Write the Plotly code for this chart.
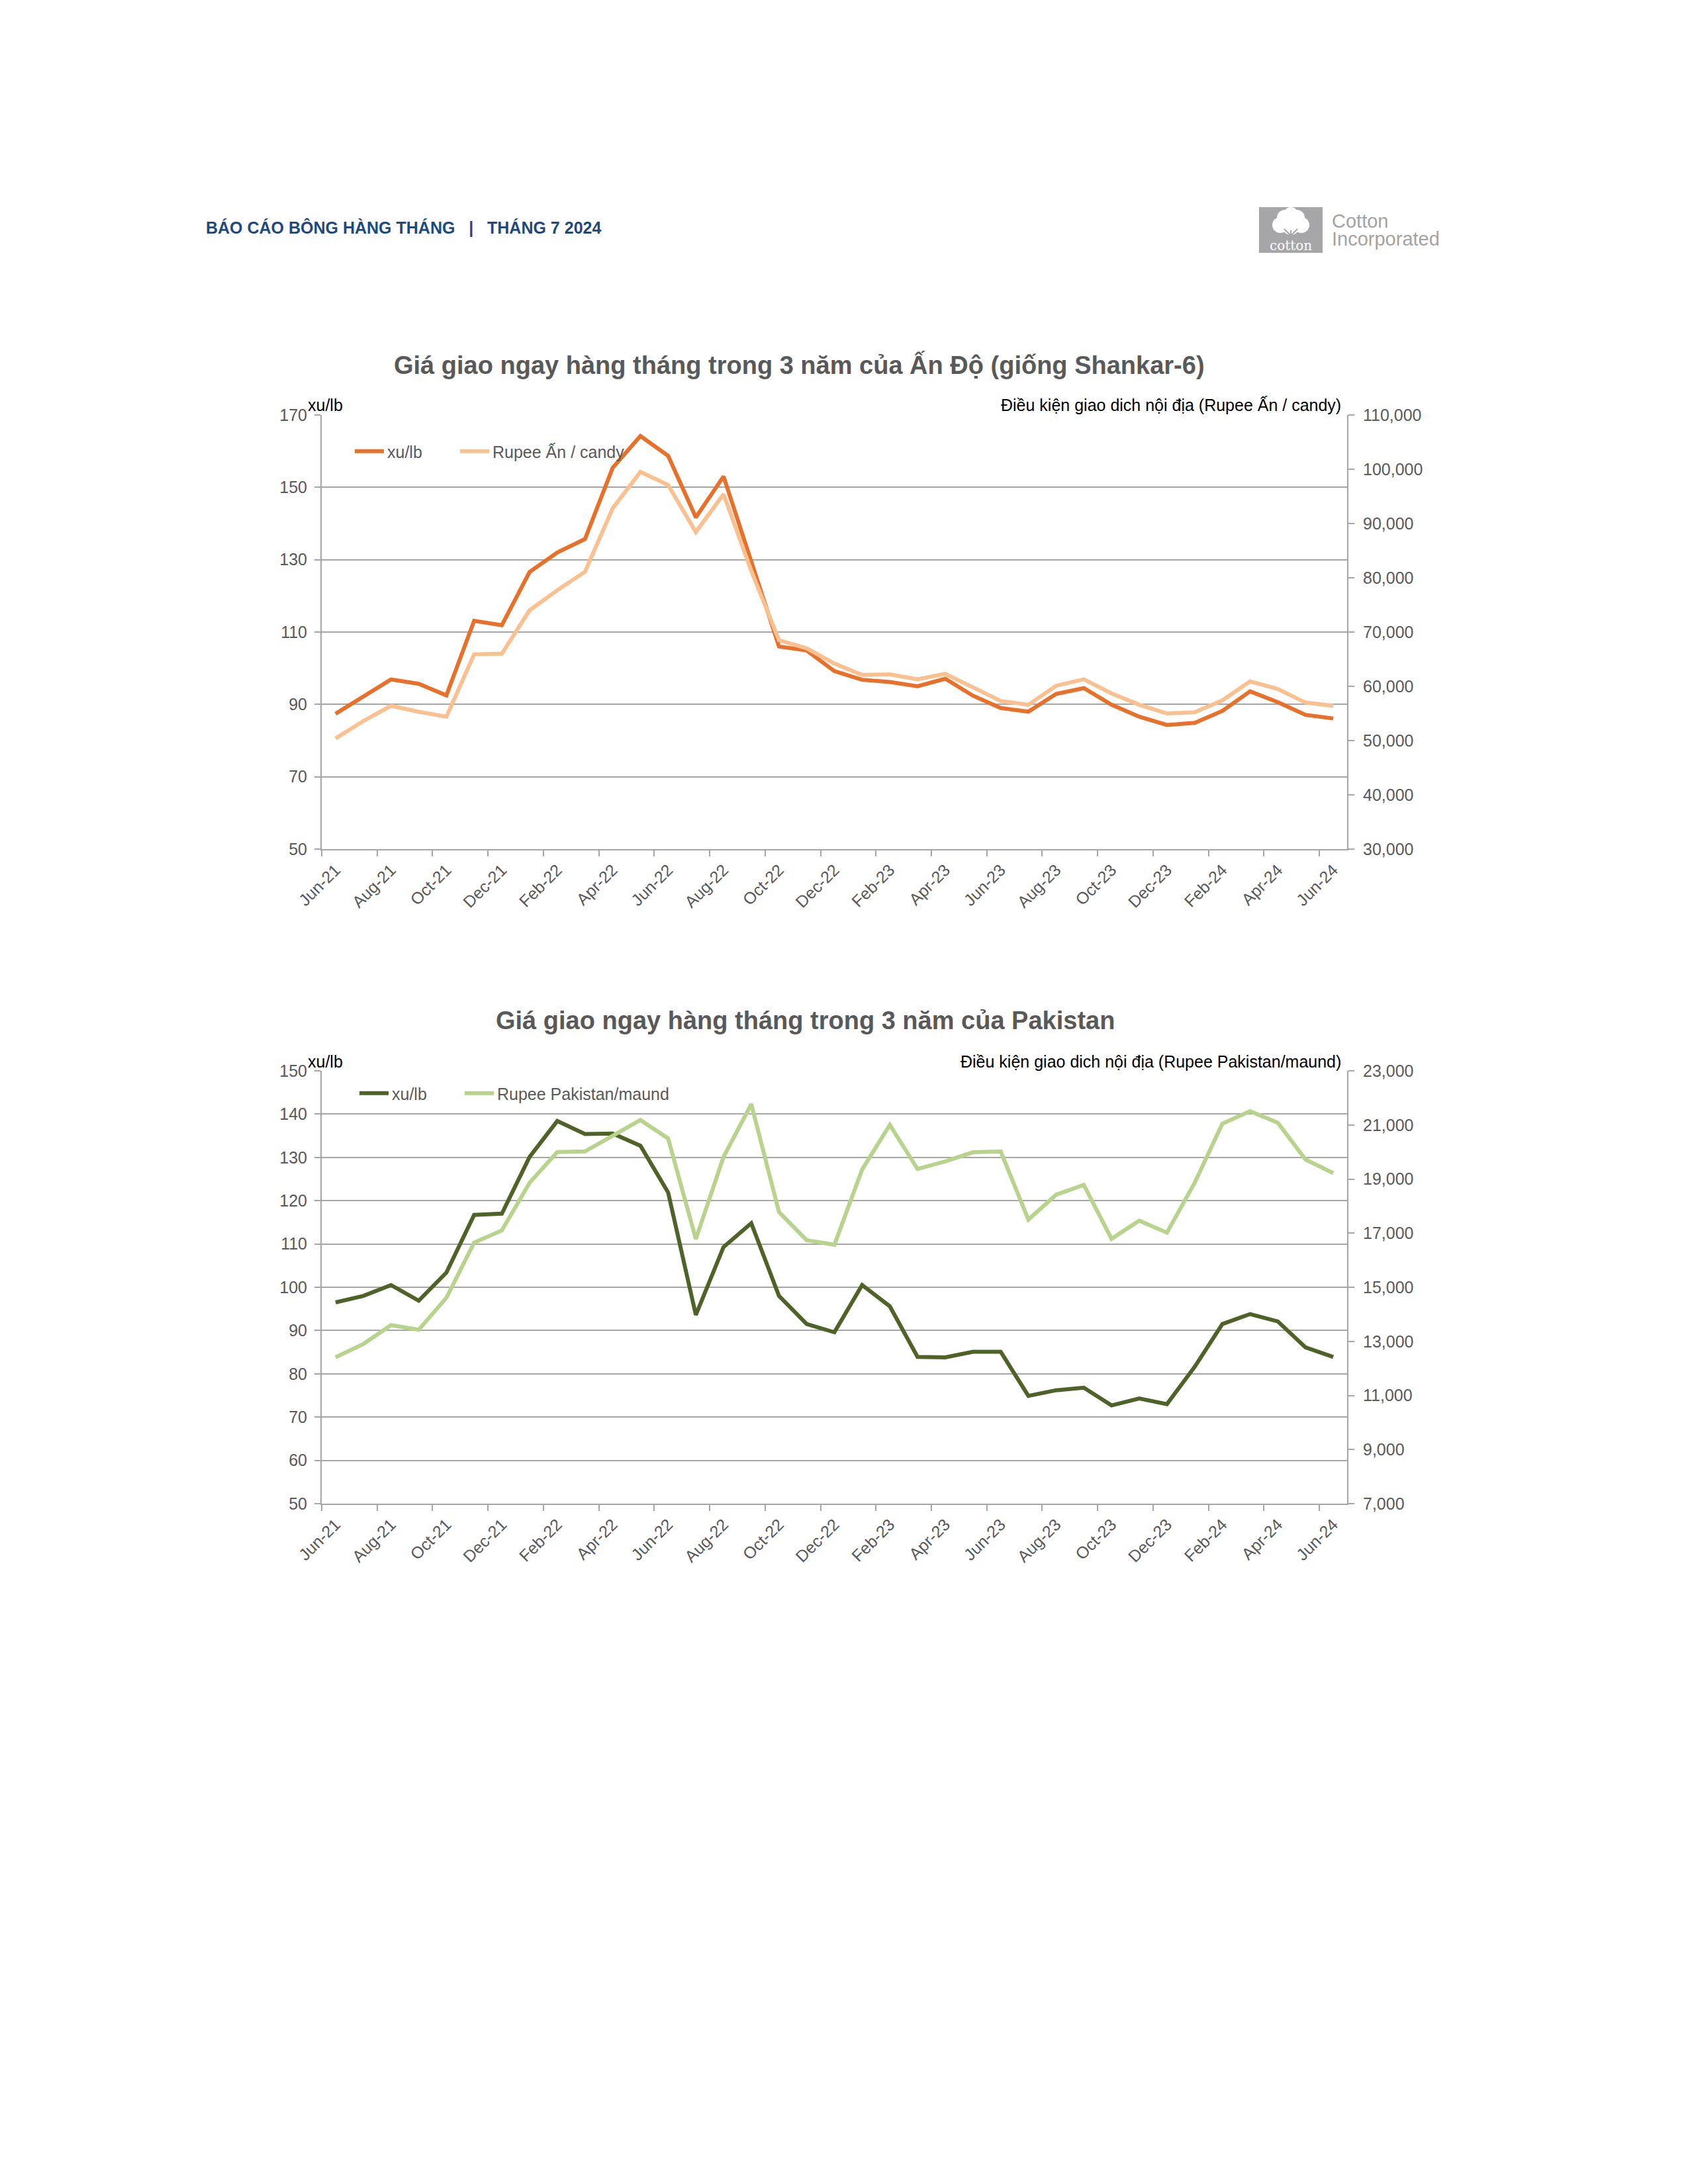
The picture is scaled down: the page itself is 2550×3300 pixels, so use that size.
import plotly.graph_objects as go

W, H = 2550, 3300
OFF = 8  # page body margin
def X(px): return (px - OFF) / W
def Y(py): return 1 - (py - OFF) / H

months = ["Jun-21","Jul-21","Aug-21","Sep-21","Oct-21","Nov-21","Dec-21",
          "Jan-22","Feb-22","Mar-22","Apr-22","May-22","Jun-22","Jul-22","Aug-22","Sep-22","Oct-22","Nov-22","Dec-22",
          "Jan-23","Feb-23","Mar-23","Apr-23","May-23","Jun-23","Jul-23","Aug-23","Sep-23","Oct-23","Nov-23","Dec-23",
          "Jan-24","Feb-24","Mar-24","Apr-24","May-24","Jun-24"]

india_cents = [87.4, 92.0, 96.9, 95.7, 92.5, 113.1, 111.9,
               126.6, 132.0, 135.7, 155.4, 164.2, 158.7, 141.7, 153.0, 129.5, 106.0, 104.9, 99.2,
               96.8, 96.2, 95.0, 97.1, 92.4, 89.0, 88.0, 92.9, 94.5, 89.9, 86.6, 84.3,
               84.9, 88.2, 93.6, 90.6, 87.1, 86.1]
india_rupee = [50400, 53600, 56400, 55300, 54400, 65900, 66000,
               74000, 77700, 81100, 92800, 99500, 97100, 88400, 95400, 81300, 68500, 67000, 64200,
               62100, 62200, 61300, 62300, 59700, 57300, 56600, 60100, 61300, 58700, 56600, 55000,
               55200, 57400, 60900, 59500, 57000, 56400]

pak_cents = [96.5, 98.0, 100.5, 96.9, 103.4, 116.7, 117.0,
             130.1, 138.4, 135.4, 135.5, 132.7, 121.9, 93.6, 109.3, 114.8, 98.0, 91.5, 89.6,
             100.5, 95.6, 83.9, 83.8, 85.1, 85.1, 74.9, 76.2, 76.8, 72.7, 74.3, 73.0,
             81.6, 91.5, 93.8, 92.1, 86.1, 83.9]
pak_rupee = [12410, 12900, 13600, 13430, 14610, 16650, 17100,
             18860, 20000, 20020, 20600, 21180, 20500, 16780, 19820, 21770, 17780, 16740, 16570,
             19350, 21000, 19370, 19650, 19990, 20020, 17500, 18420, 18780, 16790, 17460, 17020,
             18860, 21050, 21510, 21080, 19720, 19220]

FONT = "Liberation Sans, Arial, sans-serif"
GRAY_TXT = "#595959"
GRID = "#A6A6A6"
LW = 6

fig = go.Figure()
fig.add_trace(go.Scatter(x=months, y=india_cents, name="xu/lb", mode="lines", showlegend=True,
                         line=dict(color="#E8702A", width=LW), xaxis="x", yaxis="y", legend="legend"))
fig.add_trace(go.Scatter(x=months, y=india_rupee, name="Rupee Ấn / candy", mode="lines", showlegend=True,
                         line=dict(color="#FAC090", width=LW), xaxis="x", yaxis="y2", legend="legend2"))
fig.add_trace(go.Scatter(x=months, y=pak_cents, name="xu/lb", mode="lines", showlegend=True,
                         line=dict(color="#4F6228", width=LW), xaxis="x2", yaxis="y3", legend="legend3"))
fig.add_trace(go.Scatter(x=months, y=pak_rupee, name="Rupee Pakistan/maund", mode="lines", showlegend=True,
                         line=dict(color="#B7D38C", width=LW), xaxis="x2", yaxis="y4", legend="legend4"))

tickfont = dict(family=FONT, size=25, color=GRAY_TXT)

def xax(anchor):
    return dict(domain=[X(486), X(2035)], anchor=anchor, type="category", automargin=False,
                tickmode="linear", tick0=0, dtick=2, tickson="boundaries",
                ticks="outside", ticklen=9, tickwidth=2, tickcolor=GRID,
                showline=True, linecolor=GRID, linewidth=2, showgrid=False,
                tickangle=-45, tickfont=tickfont, ticklabelstandoff=5, range=[-0.5, 36.5])

def yleft(dom, rng, dt, anchor):
    return dict(domain=dom, anchor=anchor, range=rng, dtick=dt, tick0=rng[0], automargin=False,
                showgrid=True, gridcolor=GRID, gridwidth=2, zeroline=False,
                showline=True, linecolor=GRID, linewidth=2,
                ticks="outside", ticklen=9, tickwidth=2, tickcolor=GRID,
                tickfont=tickfont, ticklabelstandoff=6)

def yright(over, rng, dt, anchor):
    return dict(overlaying=over, side="right", anchor=anchor, range=rng, dtick=dt, tick0=rng[0],
                automargin=False, tickformat=",", showgrid=False, zeroline=False,
                showline=True, linecolor=GRID, linewidth=2,
                ticks="outside", ticklen=9, tickwidth=2, tickcolor=GRID,
                tickfont=tickfont, ticklabelstandoff=8)

legend_common = dict(orientation="h", xanchor="left", yanchor="middle", visible=True,
                     bgcolor="rgba(0,0,0,0)", font=dict(family=FONT, size=25, color=GRAY_TXT),
                     itemwidth=44)

fig.update_layout(
    width=W, height=H, margin=dict(l=0, r=0, t=0, b=0, autoexpand=False),
    paper_bgcolor="white", plot_bgcolor="white", showlegend=True,
    font=dict(family=FONT),
    xaxis=xax("y"),
    yaxis=yleft([Y(1283), Y(627)], [50, 170], 20, "x"),
    yaxis2=yright("y", [30000, 110000], 10000, "x"),
    xaxis2=xax("y3"),
    yaxis3=yleft([Y(2272), Y(1618)], [50, 150], 10, "x2"),
    yaxis4=yright("y3", [7000, 23000], 2000, "x2"),
    legend=dict(x=X(531), y=Y(682), **legend_common),
    legend2=dict(x=X(690), y=Y(682), **legend_common),
    legend3=dict(x=X(538), y=Y(1652), **legend_common),
    legend4=dict(x=X(697), y=Y(1652), **legend_common),
)

ann = []
NB = "\u00a0"
ann.append(dict(text="<b>BÁO CÁO BÔNG HÀNG THÁNG" + NB*3 + "|" + NB*3 + "THÁNG 7 2024</b>",
                x=X(309), y=Y(343), xanchor="left", yanchor="middle",
                font=dict(family=FONT, size=25, color="#1F497D")))
ann.append(dict(text="<b>Giá giao ngay hàng tháng trong 3 năm của Ấn Độ (giống Shankar-6)</b>",
                x=X(1207), y=Y(551), xanchor="center", yanchor="middle",
                font=dict(family=FONT, size=38, color=GRAY_TXT)))
ann.append(dict(text="<b>Giá giao ngay hàng tháng trong 3 năm của Pakistan</b>",
                x=X(1216), y=Y(1542), xanchor="center", yanchor="middle",
                font=dict(family=FONT, size=38, color=GRAY_TXT)))
for yy, rt in [(612, "Điều kiện giao dich nội địa (Rupee Ấn / candy)"),
               (1604, "Điều kiện giao dich nội địa (Rupee Pakistan/maund)")]:
    ann.append(dict(text="xu/lb", x=X(463), y=Y(yy), xanchor="left", yanchor="middle",
                    font=dict(family=FONT, size=25, color="black")))
    ann.append(dict(text=rt, x=X(2028), y=Y(yy), xanchor="right", yanchor="middle",
                    font=dict(family=FONT, size=25, color="black")))

# logo
ann.append(dict(text="Cotton", x=X(2010), y=Y(334), xanchor="left", yanchor="middle",
                font=dict(family=FONT, size=29, color="#A3A3A3")))
ann.append(dict(text="Incorporated", x=X(2010), y=Y(361), xanchor="left", yanchor="middle",
                font=dict(family=FONT, size=29, color="#A3A3A3")))
ann.append(dict(text="cotton", x=X(1950), y=Y(371), xanchor="center", yanchor="middle",
                font=dict(family="DejaVu Serif, serif", size=20, color="white")))
for a in ann:
    a.update(xref="paper", yref="paper", showarrow=False)

shapes = [dict(type="rect", xref="paper", yref="paper", x0=X(1902), x1=X(1998), y0=Y(382), y1=Y(313),
               fillcolor="#A6A6A8", line=dict(width=0))]
for cx, cy, r in [(1934, 340, 12), (1966, 340, 12), (1941, 329, 12), (1959, 329, 12), (1950, 324, 11), (1950, 342, 13)]:
    shapes.append(dict(type="circle", xref="paper", yref="paper",
                       x0=X(cx - r), x1=X(cx + r), y0=Y(cy + r), y1=Y(cy - r),
                       fillcolor="white", line=dict(width=0)))
for x0, y0, x1, y1 in [(1950, 362, 1950, 348), (1950, 356, 1940, 346), (1950, 356, 1960, 346)]:
    shapes.append(dict(type="line", xref="paper", yref="paper", x0=X(x0), y0=Y(y0), x1=X(x1), y1=Y(y1),
                       line=dict(color="#A6A6A8", width=2)))

fig.update_layout(annotations=ann, shapes=shapes)
fig.write_html("out.html")
